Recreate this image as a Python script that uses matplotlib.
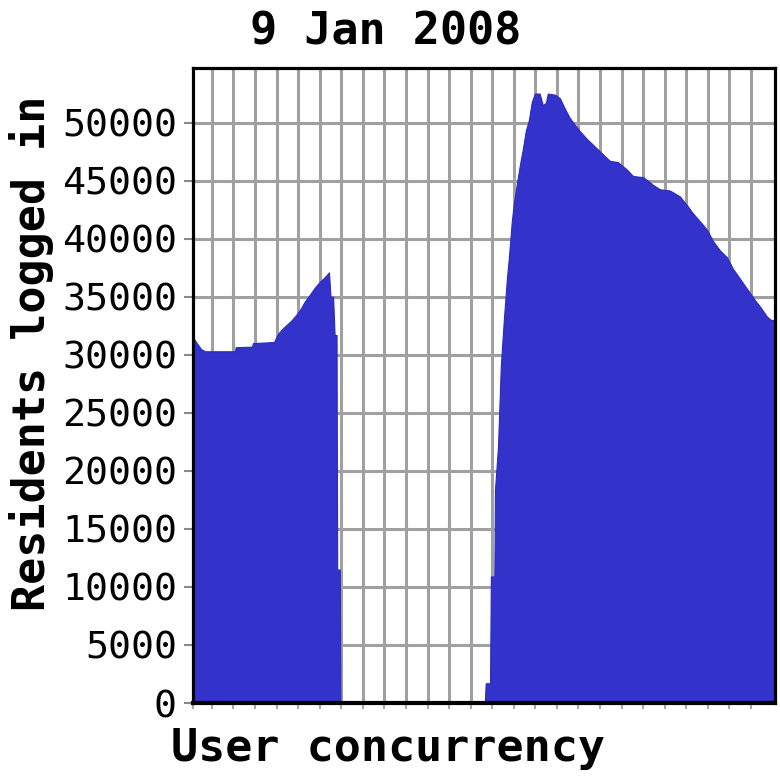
import matplotlib
matplotlib.use("Agg")
import matplotlib.pyplot as plt
import numpy as np

# ---- data (x in grid-interval units, y = residents logged in) ----
x_left = [-0.88, -0.70, -0.51, -0.32, 1.07, 1.10, 1.86, 1.90, 2.88, 3.06, 3.25, 3.48, 3.71,
          3.94, 4.13, 4.31, 4.55, 4.78, 5.01, 5.24, 5.43, 5.50, 5.62, 5.69, 5.78, 5.81, 5.93, 5.96]
y_left = [31500, 31000, 30500, 30300, 30300, 30650, 30700, 31000, 31100, 31800, 32200, 32600, 33000,
          33500, 34000, 34600, 35200, 35800, 36300, 36700, 37100, 35000, 35000, 31700, 31700, 11500, 11500, 150]

x_right = [12.66, 12.70, 12.90, 12.94, 13.10, 13.13, 13.27, 13.40, 13.54, 13.68, 13.78, 13.91, 14.01, 14.15,
           14.29, 14.42, 14.56, 14.70, 14.84, 14.98, 15.20, 15.35, 15.49, 15.58, 15.91,
           16.14, 16.37, 16.60, 16.84, 17.07, 17.39, 17.67, 17.95, 18.23, 18.46, 18.83,
           19.02, 19.25, 19.53, 19.99, 20.22, 20.45, 20.78, 21.24, 21.47, 21.71, 21.89,
           22.08, 22.26, 22.50, 22.73, 22.96, 23.24, 23.56, 23.89, 24.17, 24.40, 24.63,
           24.96, 25.19, 25.42, 25.74, 25.93, 26.12]
y_right = [150, 1700, 1700, 10900, 10900, 18400, 22100, 29000, 33000, 36500, 38500, 41500, 43100, 44800,
           46400, 47700, 49300, 50200, 51800, 52500, 52500, 51500, 51700, 52500, 52400,
           52100, 51200, 50400, 49800, 49250, 48600, 48100, 47600, 47100, 46700, 46600,
           46300, 45950, 45400, 45300, 45000, 44650, 44250, 44150, 43900, 43640, 43200,
           42780, 42300, 41780, 41300, 40770, 39800, 39000, 38400, 37400, 36800, 36180,
           35320, 34700, 34160, 33300, 33000, 33000]

x_vals = x_left + x_right
y_vals = y_left + y_right

y_ticks = [0, 5000, 10000, 15000, 20000, 25000, 30000, 35000, 40000, 45000, 50000]
x_grid = list(range(0, 26))

title = "9 Jan 2008"
xlabel = "User concurrency"
ylabel = "Residents logged in"

FILL = "#3333cc"
GRID = "#a0a0a0"
MONO = "DejaVu Sans Mono"

fig = plt.figure(figsize=(7.8, 7.8), dpi=100)
ax = fig.add_axes([0.2474, 0.0987, 0.7462, 0.8141])

ax.fill_between(x_vals, y_vals, 0, color=FILL, linewidth=0.8, edgecolor="#2a2abf", zorder=2)

ax.set_xlim(-0.88, 26.12)
ax.set_ylim(0, 54700)

ax.set_yticks(y_ticks)
ax.set_yticklabels([str(v) for v in y_ticks], fontsize=27.5, family=MONO)
ax.set_xticks(x_grid)
ax.set_xticklabels([])
ax.set_xticks([-0.88], minor=True)

ax.set_axisbelow(True)
ax.grid(True, which="major", color=GRID, linewidth=2.2, zorder=0.5)

ax.tick_params(axis="y", which="major", direction="out", length=6.5, width=1.5,
               color="#888888", pad=5)
ax.tick_params(axis="x", which="both", direction="out", length=4.5, width=1.5,
               color="#aaaaaa", pad=2)

for s in ax.spines.values():
    s.set_color("black")
    s.set_linewidth(2.3)
ax.spines["bottom"].set_linewidth(3.0)

fig.text(0.495, 0.959, title, ha="center", va="center", fontsize=32.5,
         fontweight="bold", family=MONO)
fig.text(0.497, 0.041, xlabel, ha="center", va="center", fontsize=32.5,
         fontweight="bold", family=MONO)
fig.text(0.041, 0.547, ylabel, ha="center", va="center", rotation=90,
         fontsize=32.5, fontweight="bold", family=MONO)

fig.savefig("out.png", dpi=100)
